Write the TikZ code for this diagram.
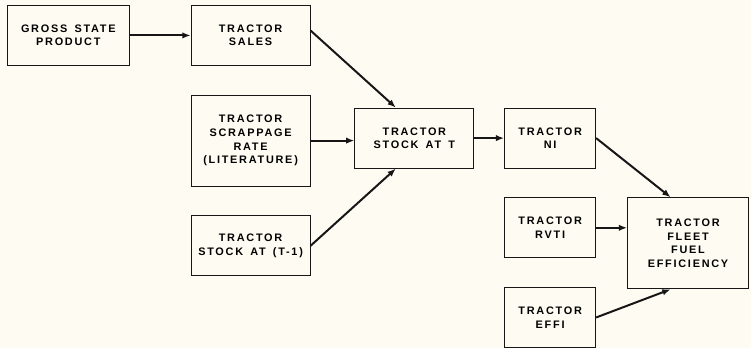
\documentclass[tikz,border=0pt]{standalone}
\usepackage{fontspec}
\newfontfamily\blockfont{Liberation Sans}[LetterSpace=16,WordSpace=1.5]
\usetikzlibrary{positioning,arrows.meta}
\definecolor{paper}{RGB}{254,252,242}
\definecolor{ink}{RGB}{22,22,22}

\begin{document}
\begin{tikzpicture}[
      node distance = 7.6mm and 7.9mm,
      block/.style = {rectangle, draw=ink, line width=0.65pt, fill=paper,
                      align=center, minimum height=15.9mm,
                      minimum width=31.5mm, inner sep=1pt,
                      font=\blockfont\bfseries\fontsize{8.2}{10.2}\selectfont},
      small/.style = {block, minimum width=24.1mm},
      arrow/.style = {-{Latex[length=2.2mm,width=1.7mm]}, line width=1.5pt,
                      draw=ink}
    ]
    \fill[paper] (0,0) rectangle (198.7mm,-92.1mm);
    \useasboundingbox (0,0) rectangle (198.7mm,-92.1mm);

    \node[block, minimum height=24.1mm] (scrap) at (66.3mm,-37.2mm)
                                                   {TRACTOR\\SCRAPPAGE\\
                                                    RATE\\(LITERATURE)};
    \node[block, above=of scrap]                   (sales) {TRACTOR\\SALES};
    \node[block, below=of scrap]                   (prev)  {TRACTOR\\
                                                    STOCK AT (T-1)};
    \node[block, minimum width=32.3mm, left=16.1mm of sales]
                                                   (gsp)   {GROSS STATE\\
                                                    PRODUCT};
    \node[block, right=11.6mm of scrap, yshift=0.66mm] (stock) {TRACTOR\\
                                                    STOCK AT T};
    \node[small, right=of stock]                   (ni)    {TRACTOR\\NI};
    \node[small, below=of ni]                      (rvti)  {TRACTOR\\RVTI};
    \node[small, below=of rvti]                    (effi)  {TRACTOR\\EFFI};
    \node[block, minimum width=32mm, minimum height=24.1mm,
          below right=0mm and 8.2mm of rvti.north east]
                                                   (fleet) {TRACTOR\\FLEET\\
                                                    FUEL\\EFFICIENCY};

    \draw[arrow] (gsp.east)  -- (gsp.east -| sales.west);
    \draw[arrow] ([yshift=1.3mm]sales.east) -- ([xshift=-4.9mm]stock.north);
    \draw[arrow] (scrap)     -- (scrap -| stock.west);
    \draw[arrow] (prev.east) -- ([xshift=-4.9mm]stock.south);
    \draw[arrow] (stock)     -- (ni);
    \draw[arrow] (ni.east)   -- ([xshift=-4.6mm]fleet.north);
    \draw[arrow] (rvti)      -- (rvti -| fleet.west);
    \draw[arrow] (effi.east) -- ([xshift=-4.6mm]fleet.south);
  \end{tikzpicture}
\end{document}
